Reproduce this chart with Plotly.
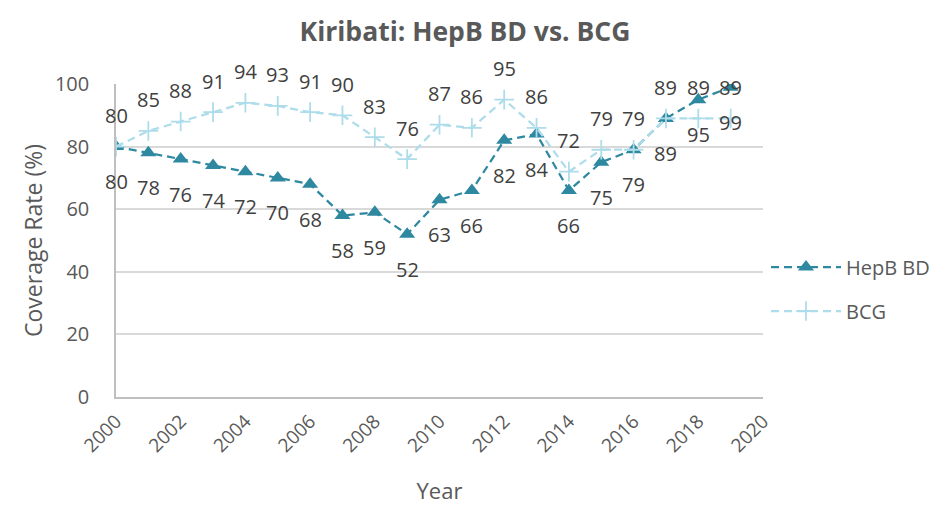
import plotly.graph_objects as go

years = list(range(2000, 2020))
hepb = [80, 78, 76, 74, 72, 70, 68, 58, 59, 52, 63, 66, 82, 84, 66, 75, 79, 89, 95, 99]
bcg = [80, 85, 88, 91, 94, 93, 91, 90, 83, 76, 87, 86, 95, 86, 72, 79, 79, 89, 89, 89]

HEPB_COLOR = "#2E88A0"
BCG_COLOR = "#ADDCEA"
TEXT = "#595959"
LABEL = "#404040"
FONT = "Open Sans"

fig = go.Figure()
fig.add_trace(go.Scatter(
    x=years, y=hepb, name="HepB BD", mode="lines+markers", legendgroup="a",
    line=dict(color=HEPB_COLOR, width=2.25, dash="8px,5px"),
    marker=dict(symbol="triangle-up", size=14, color=HEPB_COLOR),
))
fig.add_trace(go.Scatter(
    x=years, y=bcg, name="BCG", mode="lines+markers", legendgroup="b",
    line=dict(color=BCG_COLOR, width=2.25, dash="8px,5px"),
    marker=dict(symbol="cross-thin", size=14, line=dict(color=BCG_COLOR, width=1.8)),
))

annotations = []
for x, v in zip(years, hepb):
    annotations.append(dict(x=x, y=v, text=str(v), showarrow=False, yshift=-35,
                            font=dict(family=FONT, size=20, color=LABEL)))
for x, v in zip(years, bcg):
    annotations.append(dict(x=x, y=v, text=str(v), showarrow=False, yshift=31,
                            font=dict(family=FONT, size=20, color=LABEL)))

fig.update_layout(
    width=933, height=505,
    margin=dict(l=116, r=170, t=84, b=108),
    paper_bgcolor="white", plot_bgcolor="white",
    title=dict(text="<b>Kiribati: HepB BD vs. BCG</b>", x=465 / 933, xref="container",
               xanchor="center", y=1 - 32 / 505, yref="container", yanchor="middle",
               font=dict(family=FONT, size=26.5, color=TEXT)),
    font=dict(family=FONT, color=TEXT),
    annotations=annotations,
    legend=dict(xref="container", yref="container", x=766 / 933, xanchor="left",
                y=1 - 289 / 505, yanchor="middle",
                font=dict(family=FONT, size=20, color=TEXT),
                itemwidth=70, tracegroupgap=15, bgcolor="rgba(0,0,0,0)"),
    xaxis=dict(range=[2000, 2020], tickmode="linear", tick0=2000, dtick=2,
               tickangle=-45, showgrid=False, zeroline=False, automargin=False,
               showline=True, linecolor="#BFBFBF", linewidth=1.5,
               ticklabelstandoff=4,
               tickfont=dict(family=FONT, size=19, color=TEXT),
               title=dict(text="Year", font=dict(family=FONT, size=22, color=TEXT), standoff=30)),
    yaxis=dict(range=[0, 100], tickmode="linear", tick0=0, dtick=20,
               showgrid=True, gridcolor="#D9D9D9", gridwidth=1.5, zeroline=False, automargin=False,
               showline=True, linecolor="#BFBFBF", linewidth=1.5,
               ticklabelstandoff=21,
               tickfont=dict(family=FONT, size=20, color=TEXT), ticks="", ticklen=0,
               title=dict(text="Coverage Rate (%)", font=dict(family=FONT, size=23, color=TEXT), standoff=6)),
)

fig.write_html("out.html", config={"displayModeBar": False},
               post_script="document.body.style.margin='0';")
